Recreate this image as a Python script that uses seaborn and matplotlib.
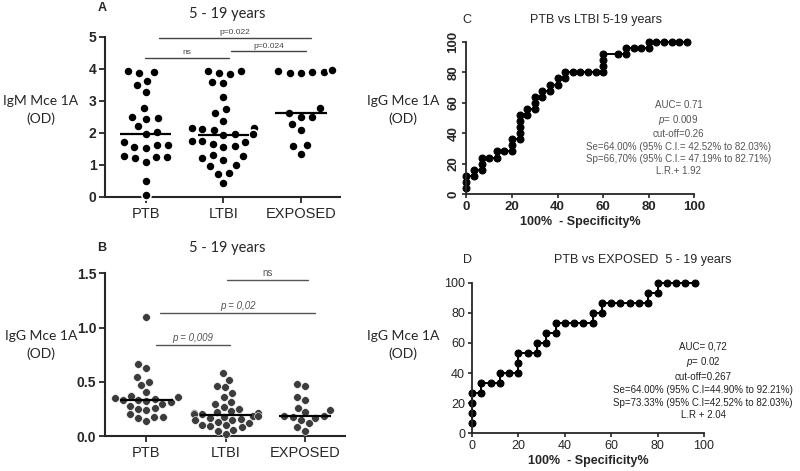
import numpy as np
import pandas as pd
import matplotlib
matplotlib.use("Agg")
import matplotlib.pyplot as plt
import seaborn as sns

# Data --------------------------------------------------------------------------------------

groups = ["PTB", "LTBI", "EXPOSED"]

# IgM Mce 1A (OD), panel A
igm_ptb = [3.88, 3.90, 3.93, 3.63, 3.49, 3.28, 2.76, 2.43, 2.49, 2.45, 2.20, 2.03, 1.95,
           1.72, 1.63, 1.57, 1.53, 1.61, 1.28, 1.24, 1.09, 1.20, 1.26, 0.49, 0.07]
igm_ltbi = [3.93, 3.85, 3.92, 3.88, 3.58, 3.57, 3.12, 2.75, 2.62, 2.38, 2.15, 2.12, 2.15,
            2.10, 1.97, 1.95, 1.92, 1.75, 1.72, 1.65, 1.60, 1.75, 1.55, 1.30, 1.27, 1.20,
            1.15, 1.00, 0.97, 0.73, 0.72, 0.42]
igm_exposed = [3.90, 3.88, 3.95, 3.86, 3.90, 3.92, 2.76, 2.61, 2.49, 2.50, 2.28, 2.09,
               1.63, 1.59, 1.34]

# IgG Mce 1A (OD), panel B
igg_ptb = [1.10, 0.66, 0.63, 0.54, 0.50, 0.47, 0.41, 0.37, 0.36, 0.35, 0.34, 0.33, 0.33,
           0.32, 0.31, 0.30, 0.28, 0.26, 0.25, 0.24, 0.20, 0.18, 0.18, 0.17, 0.14]
igg_ltbi = [0.58, 0.52, 0.46, 0.45, 0.40, 0.36, 0.31, 0.30, 0.27, 0.25, 0.23, 0.22, 0.21,
            0.21, 0.20, 0.20, 0.19, 0.19, 0.18, 0.17, 0.16, 0.15, 0.15, 0.13, 0.12, 0.10,
            0.10, 0.09, 0.08, 0.06, 0.05, 0.02]
igg_exposed = [0.48, 0.46, 0.36, 0.33, 0.26, 0.24, 0.22, 0.19, 0.19, 0.18, 0.17, 0.15,
               0.12, 0.08, 0.05]

# ROC PTB vs LTBI (panel C)
roc_c_fpr = [0, 0, 0, 3.33, 3.33, 6.67, 6.67, 6.67, 10, 13.33, 13.33, 16.67, 20, 20, 20,
             23.33, 23.33, 23.33, 23.33, 23.33, 26.67, 26.67, 30, 30, 30, 33.33, 33.33,
             36.67, 36.67, 40, 40, 43.33, 43.33, 46.67, 50, 53.33, 56.67, 60, 60, 60, 60,
             66.67, 70, 70, 73.33, 76.67, 80, 80, 83.33, 86.67, 90, 93.33, 96.67]
roc_c_tpr = [4, 8, 12, 12, 16, 16, 20, 24, 24, 24, 28, 28, 28, 32, 36,
             36, 40, 44, 48, 52, 52, 56, 56, 60, 64, 64, 68,
             68, 72, 72, 76, 76, 80, 80, 80, 80, 80, 80, 84, 88, 92,
             92, 92, 96, 96, 96, 96, 100, 100, 100, 100, 100, 100]

# ROC PTB vs EXPOSED (panel D)
roc_d_fpr = [0, 0, 0, 0, 4, 4, 8, 12, 12, 16, 20, 20, 20, 24, 28, 28, 32, 32, 36, 36,
             40, 44, 48, 52, 52, 56, 56, 60, 64, 68, 72, 76, 76, 80, 80, 84, 88, 92, 96]
roc_d_tpr = [6.67, 13.33, 20, 26.67, 26.67, 33.33, 33.33, 33.33, 40, 40, 40, 46.67, 53.33,
             53.33, 53.33, 60, 60, 66.67, 66.67, 73.33, 73.33, 73.33, 73.33, 73.33, 80,
             80, 86.67, 86.67, 86.67, 86.67, 86.67, 86.67, 93.33, 93.33, 100, 100, 100,
             100, 100]

# significance brackets: (x start, x end, height, label)
sig_a = [(0.175, 2.125, 4.96, "p=0.022"), (-0.01, 1.075, 4.34, "ns"), (1.10, 2.06, 4.54, "p=0.024")]
sig_b = [(1.01, 2.04, 1.435, "ns"), (0.175, 2.125, 1.13, "p = 0,02"), (0.125, 1.05, 0.84, "p = 0,009")]

stats_c = "AUC= 0.71\n$p$= 0.009\ncut-off=0.26\nSe=64.00% (95% C.I.= 42.52% to 82.03%)\nSp=66,70% (95% C.I.= 47.19% to 82.71%)\nL.R.+ 1.92"
stats_d = "AUC= 0,72\n$p$= 0.02\ncut-off=0.267\nSe=64.00% (95% C.I=44.90% to 92.21%)\nSp=73.33% (95% C.I=42.52% to 82.03%)\nL.R + 2.04"

# Plotting ------------------------------------------------------------------------------------

sns.set_style("ticks")
plt.rcParams['font.family'] = ['Liberation Sans', 'DejaVu Sans']
plt.rcParams['mathtext.fontset'] = 'custom'
plt.rcParams['mathtext.it'] = 'Liberation Sans:italic'

fig = plt.figure(figsize=(8, 4.71), dpi=100)

def dot_panel(rect, vals, color, ylim, yticks, yticklabels, size, gap):
    ax = fig.add_axes(rect)
    df = pd.DataFrame({"group": np.repeat(groups, [len(v) for v in vals]),
                       "od": np.concatenate(vals)})
    # white edge only used to space the dots out like the original
    sns.swarmplot(data=df, x="group", y="od", order=groups, color=color, size=size,
                  edgecolor="white", linewidth=gap, warn_thresh=1, ax=ax, clip_on=False)
    for i, v in enumerate(vals):
        ax.hlines(np.median(v), i - 0.33, i + 0.33, color="black", lw=1.6, zorder=5)
    ax.set_xlim(-0.525, 2.5)
    ax.set_ylim(*ylim)
    ax.set_yticks(yticks)
    ax.set_yticklabels(yticklabels, fontsize=10, fontweight="bold")
    ax.set_xlabel("")
    ax.set_ylabel("")
    ax.tick_params(axis="x", labelsize=10.5, length=4, width=1.3, pad=3)
    ax.tick_params(axis="y", length=4, width=1.3, pad=2)
    for s in ["left", "bottom"]:
        ax.spines[s].set_linewidth(1.5)
    sns.despine(ax=ax)
    return ax

def roc_panel(rect, fpr, tpr, rotate):
    ax = fig.add_axes(rect)
    sns.lineplot(x=fpr, y=tpr, sort=False, estimator=None, color="black", lw=1.4,
                 marker="o", markersize=5, markeredgecolor="black", ax=ax, clip_on=False)
    ax.set_xlim(0, 100)
    ax.set_ylim(0, 100)
    ax.set_xticks(range(0, 101, 20))
    ax.set_yticks(range(0, 101, 20))
    ax.tick_params(axis="both", labelsize=9.5 if rotate else 9, length=3, width=1.2, pad=2)
    if rotate:
        plt.setp(ax.get_yticklabels(), rotation=90, va="center")
        plt.setp(ax.get_xticklabels() + ax.get_yticklabels(), fontweight="bold")
    for s in ["left", "bottom"]:
        ax.spines[s].set_linewidth(1.3)
    sns.despine(ax=ax)
    ax.set_xlabel("100%  - Specificity%", fontsize=9, fontweight="bold", labelpad=2)
    return ax

# Panel A
axA = dot_panel([0.131, 0.582, 0.294, 0.34], [igm_ptb, igm_ltbi, igm_exposed], "black",
                (0, 5), range(0, 6), [str(i) for i in range(0, 6)], 6.6, 1.2)
for x0, x1, y, lab in sig_a:
    axA.plot([x0, x1], [y, y], color="#444444", lw=1.0, clip_on=False)
    axA.text((x0 + x1) / 2, y + 0.06, lab, ha="center", va="bottom", fontsize=6, color="#444444")

# Panel B
axB = dot_panel([0.131, 0.074, 0.30, 0.346], [igg_ptb, igg_ltbi, igg_exposed], "#3c3c3c",
                (0, 1.5), [0, 0.5, 1.0, 1.5], ["0.0", "0.5", "1.0", "1.5"], 5.6, 0.4)
for x0, x1, y, lab in sig_b:
    axB.plot([x0, x1], [y, y], color="#555555", lw=1.0, clip_on=False)
    axB.text((x0 + x1) / 2, y + 0.02, lab, ha="center", va="bottom", fontsize=7,
             color="#555555", style="italic" if lab != "ns" else "normal")

# Panel C
axC = roc_panel([0.583, 0.588, 0.285, 0.323], roc_c_fpr, roc_c_tpr, True)
fig.text(0.848, 0.707, stats_c, ha="center", va="center", fontsize=7.0, color="#555555",
         linespacing=1.3)

# Panel D
axD = roc_panel([0.59, 0.080, 0.29, 0.32], roc_d_fpr, roc_d_tpr, False)
fig.text(0.879, 0.191, stats_d, ha="center", va="center", fontsize=7.0, color="#222222",
         linespacing=1.35)

# Titles, panel letters and y-axis labels
fig.text(227 / 800, 1 - 14 / 471, "5 - 19 years", ha="center", va="center", fontsize=10.5, family="Lato")
fig.text(227 / 800, 1 - 248 / 471, "5 - 19 years", ha="center", va="center", fontsize=10.5, family="Lato")
fig.text(596 / 800, 1 - 20 / 471, "PTB vs LTBI 5-19 years", ha="center", va="center", fontsize=9)
fig.text(643 / 800, 1 - 260 / 471, "PTB vs EXPOSED  5 - 19 years", ha="center", va="center", fontsize=9)
fig.text(102 / 800, 1 - 8 / 471, "A", ha="center", va="center", fontsize=9, fontweight="bold")
fig.text(102 / 800, 1 - 248 / 471, "B", ha="center", va="center", fontsize=9, fontweight="bold")
fig.text(467 / 800, 1 - 20 / 471, "C", ha="center", va="center", fontsize=9)
fig.text(468 / 800, 1 - 260 / 471, "D", ha="center", va="center", fontsize=9)

for x, y, lab in [(41, 110, "IgM Mce 1A\n(OD)"), (41, 345, "IgG Mce 1A\n(OD)"),
                  (403, 110, "IgG Mce 1A\n(OD)"), (403, 345, "IgG Mce 1A\n(OD)")]:
    fig.text(x / 800, 1 - y / 471, lab, ha="center", va="center", fontsize=10,
             family="Lato", linespacing=1.5)

fig.savefig("out.png", dpi=100)
